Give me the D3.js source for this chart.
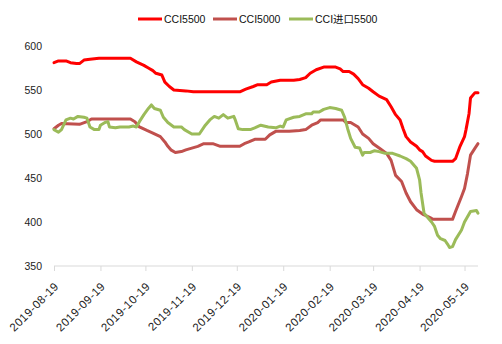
<!DOCTYPE html>
<html>
<head>
<meta charset="utf-8">
<script src="https://cdn.jsdelivr.net/npm/d3@7/dist/d3.min.js"></script>
<style>
  html, body { margin: 0; padding: 0; background: #fff; }
  svg { display: block; font-family: "Liberation Sans", "Noto Sans CJK SC", sans-serif; }
</style>
</head>
<body>
<svg id="chart" width="502" height="344"></svg>
<script>
// CCI thermal coal price indices, daily (yuan/ton)
const seriesNames = ["CCI5500", "CCI5000", "CCI进口5500"];
const seriesColors = ["#FF0000", "#C0504D", "#9BBB59"];

const cci5500Dates = ["2019-08-19","2019-08-22","2019-08-27","2019-08-30","2019-09-03","2019-09-05","2019-09-08","2019-09-12","2019-09-18","2019-10-09","2019-10-13","2019-10-18","2019-10-21","2019-10-24","2019-10-26","2019-10-30","2019-11-01","2019-11-04","2019-11-07","2019-11-15","2019-11-20","2019-12-21","2019-12-25","2019-12-30","2020-01-02","2020-01-08","2020-01-11","2020-01-17","2020-01-26","2020-01-30","2020-02-03","2020-02-06","2020-02-10","2020-02-15","2020-02-23","2020-02-26","2020-02-28","2020-03-03","2020-03-06","2020-03-09","2020-03-12","2020-03-16","2020-03-19","2020-03-23","2020-03-28","2020-03-31","2020-04-03","2020-04-06","2020-04-08","2020-04-10","2020-04-13","2020-04-17","2020-04-19","2020-04-21","2020-04-23","2020-04-27","2020-04-29","2020-05-11","2020-05-13","2020-05-16","2020-05-19","2020-05-20","2020-05-22","2020-05-23","2020-05-26","2020-05-28"];
const cci5500Values = [581,583,583,581,580,580,584,585,586,586,582,578,575,572,569,567,559,554,550,549,548,548,551,554,556,556,559,561,561,562,564,569,573,576,576,574,571,571,568,563,556,552,548,543,539,531,522,516,506,497,491,486,482,480,475,470,469,469,472,486,497,505,523,541,547,547];

const cci5000Dates = ["2019-08-19","2019-08-22","2019-08-24","2019-09-05","2019-09-10","2019-09-13","2019-10-09","2019-10-12","2019-10-15","2019-10-20","2019-10-24","2019-10-29","2019-11-01","2019-11-03","2019-11-05","2019-11-08","2019-11-12","2019-11-15","2019-11-19","2019-11-23","2019-11-27","2019-12-03","2019-12-08","2019-12-21","2019-12-24","2019-12-27","2019-12-31","2020-01-07","2020-01-10","2020-01-14","2020-01-23","2020-01-30","2020-02-03","2020-02-07","2020-02-11","2020-02-13","2020-02-28","2020-03-01","2020-03-04","2020-03-09","2020-03-12","2020-03-16","2020-03-19","2020-03-23","2020-03-28","2020-03-31","2020-04-03","2020-04-07","2020-04-10","2020-04-13","2020-04-17","2020-04-21","2020-04-26","2020-04-28","2020-05-11","2020-05-13","2020-05-17","2020-05-19","2020-05-21","2020-05-23","2020-05-26","2020-05-28"];
const cci5000Values = [506,510,512,511,514,517,517,514,508,504,501,497,491,486,482,479,480,482,484,486,489,489,486,486,489,491,494,494,499,503,503,504,505,510,513,516,516,513,513,508,500,495,489,484,478,470,453,446,433,423,414,409,405,403,403,412,429,438,455,476,484,489];

const cciImportDates = ["2019-08-19","2019-08-22","2019-08-24","2019-08-27","2019-08-30","2019-09-01","2019-09-04","2019-09-08","2019-09-10","2019-09-12","2019-09-15","2019-09-18","2019-09-19","2019-09-22","2019-09-24","2019-09-25","2019-09-29","2019-10-02","2019-10-08","2019-10-11","2019-10-13","2019-10-15","2019-10-18","2019-10-21","2019-10-23","2019-10-25","2019-10-29","2019-10-31","2019-11-03","2019-11-07","2019-11-12","2019-11-14","2019-11-19","2019-11-24","2019-11-28","2019-12-01","2019-12-04","2019-12-07","2019-12-10","2019-12-13","2019-12-17","2019-12-18","2019-12-20","2019-12-23","2019-12-28","2019-12-31","2020-01-04","2020-01-09","2020-01-14","2020-01-17","2020-01-19","2020-01-21","2020-01-26","2020-01-30","2020-02-03","2020-02-07","2020-02-08","2020-02-12","2020-02-15","2020-02-19","2020-02-23","2020-02-27","2020-02-29","2020-03-02","2020-03-04","2020-03-07","2020-03-10","2020-03-12","2020-03-13","2020-03-17","2020-03-20","2020-03-23","2020-03-27","2020-04-01","2020-04-06","2020-04-10","2020-04-13","2020-04-17","2020-04-19","2020-04-20","2020-04-22","2020-04-25","2020-04-27","2020-04-29","2020-05-01","2020-05-03","2020-05-06","2020-05-08","2020-05-09","2020-05-11","2020-05-13","2020-05-17","2020-05-19","2020-05-21","2020-05-23","2020-05-27","2020-05-28"];
const cciImportValues = [505,502,505,516,518,517,520,519,518,508,505,505,510,513,514,508,507,508,508,509,508,514,522,529,533,529,527,519,513,508,508,505,500,500,510,516,520,518,522,518,520,516,506,505,505,507,510,508,507,509,508,516,519,520,523,523,525,525,528,530,529,527,519,506,495,485,484,476,479,479,481,480,478,478,475,472,469,461,448,433,410,404,400,395,385,381,379,374,371,372,380,391,400,406,412,413,410];

const yTicks = [350, 400, 450, 500, 550, 600];
const xTickLabels = ["2019-08-19","2019-09-19","2019-10-19","2019-11-19","2019-12-19","2020-01-19","2020-02-19","2020-03-19","2020-04-19","2020-05-19"];

const parse = d3.timeParse("%Y-%m-%d");
const fmt = d3.timeFormat("%Y-%m-%d");

const series = [
  { name: seriesNames[0], color: seriesColors[0], dates: cci5500Dates, values: cci5500Values },
  { name: seriesNames[1], color: seriesColors[1], dates: cci5000Dates, values: cci5000Values },
  { name: seriesNames[2], color: seriesColors[2], dates: cciImportDates, values: cciImportValues }
].map(s => ({ ...s, points: s.dates.map((d, i) => ({ date: parse(d), value: s.values[i] })) }));

const svg = d3.select("#chart");

const x = d3.scaleTime()
  .domain([parse("2019-08-19"), parse("2020-05-28")])
  .range([54, 478]);
const y = d3.scaleLinear()
  .domain([350, 600])
  .range([266, 46]);

// y labels (no axis line)
svg.append("g")
  .selectAll("text")
  .data(yTicks)
  .join("text")
  .attr("x", 42)
  .attr("y", d => y(d))
  .attr("dy", "0.35em")
  .attr("text-anchor", "end")
  .attr("font-size", 10.5)
  .attr("fill", "#222")
  .text(d => d);

// x axis
const xAxis = d3.axisBottom(x)
  .tickValues(xTickLabels.map(parse))
  .tickFormat(fmt)
  .tickSize(5)
  .tickSizeOuter(0);

const gx = svg.append("g")
  .attr("transform", "translate(0,266)")
  .call(xAxis);
gx.select(".domain").attr("stroke", "#D9D9D9").attr("d", "M54,0H478");
gx.selectAll(".tick line").attr("stroke", "#D9D9D9");
gx.selectAll(".tick text")
  .attr("font-family", "Liberation Sans, sans-serif")
  .attr("font-size", 11.5)
  .attr("letter-spacing", "0.5px")
  .attr("fill", "#222")
  .attr("text-anchor", "end")
  .attr("y", 0)
  .attr("dy", 0)
  .attr("transform", "translate(5,21) rotate(-45)");

// lines
const line = d3.line()
  .x(d => x(d.date))
  .y(d => y(d.value));

svg.append("g")
  .selectAll("path")
  .data(series)
  .join("path")
  .attr("fill", "none")
  .attr("stroke", d => d.color)
  .attr("stroke-width", 3)
  .attr("stroke-linejoin", "round")
  .attr("stroke-linecap", "round")
  .attr("d", d => line(d.points));

// legend
const legendX = [138, 213, 289];
const legend = svg.append("g")
  .selectAll("g")
  .data(series)
  .join("g")
  .attr("transform", (d, i) => `translate(${legendX[i]},19)`);
legend.append("line")
  .attr("x1", 0).attr("x2", 24)
  .attr("stroke", d => d.color)
  .attr("stroke-width", 3);
legend.append("text")
  .attr("x", 26)
  .attr("dy", "0.35em")
  .attr("font-size", 10.5)
  .attr("fill", "#111")
  .text(d => d.name);
</script>
</body>
</html>
